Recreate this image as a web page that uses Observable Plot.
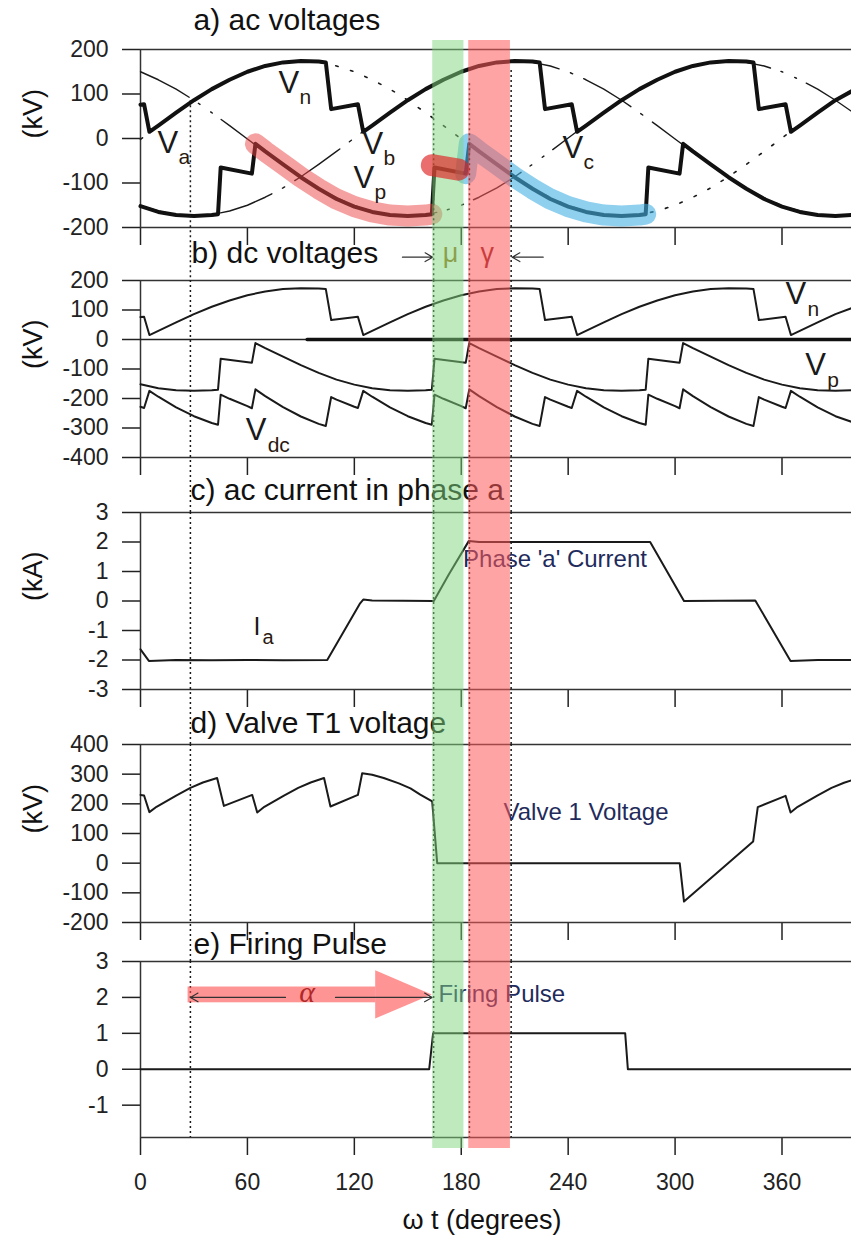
<!DOCTYPE html>
<html><head><meta charset="utf-8">
<script src="https://cdn.jsdelivr.net/npm/d3@7"></script>
<script src="https://cdn.jsdelivr.net/npm/@observablehq/plot@0.6"></script>
<style>
body{margin:0;background:#fff;}
#wrap{position:relative;width:851px;height:1238px;color:#222;font-family:"Liberation Sans",Arial,Helvetica,sans-serif;overflow:hidden;}
</style></head><body><div id="wrap"></div>
<script>
// ---------- shared x ----------
const xDomain = [0, 399];
const xTicks = [0, 60, 120, 180, 240, 300, 360];

// ---------- panel a: ac phase voltages (kV) ----------
const vA = [[0,150],[10,132],[20,111],[30,86],[40,58],[50,29],[60,-1],[70,-31],[80,-59],[90,-87],[100,-112],[110,-133],[120,-151],[130,-163],[140,-172],[150,-174],[160,-171],[170,-163],[180,-150],[190,-132],[200,-111],[210,-86],[220,-58],[230,-29],[240,1],[250,31],[260,59],[270,87],[280,112],[290,133],[300,151],[310,163],[320,172],[330,174],[340,171],[350,163],[360,150],[370,132],[380,111],[390,86],[399,61]];
const vB = [[0,-2],[10,29],[20,58],[30,86],[40,111],[50,132],[60,150],[70,163],[80,171],[90,174],[100,172],[110,163],[120,150],[130,132],[140,111],[150,86],[160,58],[170,29],[180,-1],[190,-31],[200,-59],[210,-87],[220,-112],[230,-133],[240,-151],[250,-163],[260,-172],[270,-174],[280,-171],[290,-163],[300,-150],[310,-132],[320,-111],[330,-86],[340,-58],[350,-29],[360,1],[370,31],[380,59],[390,87],[399,107]];
const vC = [[0,-151],[10,-163],[20,-172],[30,-174],[40,-171],[50,-163],[60,-150],[70,-132],[80,-111],[90,-86],[100,-58],[110,-29],[120,1],[130,31],[140,59],[150,87],[160,112],[170,133],[180,151],[190,163],[200,172],[210,174],[220,171],[230,163],[240,150],[250,132],[260,111],[270,86],[280,58],[290,29],[300,-1],[310,-31],[320,-59],[330,-87],[340,-112],[350,-133],[360,-151],[370,-163],[380,-172],[390,-174],[399,-172]];

// pole voltages Vn (top) and Vp (bottom), kV
const vN = [[0,76],[2,77],[5,15],[10,29],[20,58],[30,86],[40,111],[50,132],[60,150],[70,163],[80,171],[90,174],[100,173],[104,171],[107,66],[122,77],[125,15],[130,29],[140,58],[150,86],[160,111],[170,132],[180,150],[190,163],[200,171],[210,174],[220,173],[224,171],[227,66],[242,77],[245,15],[250,29],[260,58],[270,86],[280,111],[290,132],[300,150],[310,163],[320,171],[330,174],[340,173],[344,171],[347,66],[362,77],[365,15],[370,29],[380,58],[390,86],[399,106]];
const vP = [[0,-152],[10,-165],[20,-172],[30,-174],[40,-172],[43.5,-170],[45,-65],[62.5,-79],[64.5,-12],[70,-29],[80,-58],[90,-87],[100,-113],[110,-136],[120,-153],[130,-165],[140,-172],[150,-174],[160,-172],[163.5,-170],[165,-65],[182.5,-79],[184.5,-12],[190,-29],[200,-58],[210,-87],[220,-113],[230,-136],[240,-153],[250,-165],[260,-172],[270,-174],[280,-172],[283.5,-170],[285,-65],[302.5,-79],[304.5,-12],[310,-29],[320,-58],[330,-87],[340,-113],[350,-136],[360,-153],[370,-165],[380,-172],[390,-174],[399,-172]];
const redBlob = [[163.5,-60],[178.5,-70]];

// ---------- panel b: dc voltage (kV) ----------
const vDC = [[0,-228],[2,-232],[5,-174],[10,-194],[20,-230],[30,-260],[40,-283],[43.5,-289],[45,-187],[50,-201],[60,-226],[62.5,-233],[64.5,-169],[70,-192],[80,-229],[90,-261],[100,-286],[104,-293],[107,-195],[110,-204],[120,-228],[122,-232],[125,-174],[130,-194],[140,-230],[150,-260],[160,-283],[163.5,-289],[165,-187],[170,-201],[180,-226],[182.5,-233],[184.5,-169],[190,-192],[200,-229],[210,-261],[220,-286],[224,-293],[227,-195],[230,-204],[240,-228],[242,-232],[245,-174],[250,-194],[260,-230],[270,-260],[280,-283],[283.5,-289],[285,-187],[290,-201],[300,-226],[302.5,-233],[304.5,-169],[310,-192],[320,-229],[330,-261],[340,-286],[344,-293],[347,-195],[350,-204],[360,-228],[362,-232],[365,-174],[370,-194],[380,-230],[390,-260],[399,-279]];
const dcZero = [[93.5,0],[399,0]];

// ---------- panel c: phase a current (kA) ----------
const iA = [[0,-1.64],[4.7,-2.03],[20,-2.0],[40,-2.01],[60,-2.0],[80,-2.01],[104.8,-2.0],[123,-0.1],[125,0.05],[130,0.02],[164.6,0.0],[173,0.9],[184.2,2.03],[190,2.0],[286,2.0],[305,0.0],[345,0.02],[364.8,-2.03],[380,-2.0],[399,-2.0]];

// ---------- panel d: valve T1 voltage (kV) ----------
const vValve = [[0,230],[2,228],[5,172],[9,190],[20,228],[28,254],[35,272],[43,287],[46.8,193],[62.7,230],[65.5,171],[69.5,190],[80.5,228],[88.5,254],[95.5,272],[103,287],[106.6,191],[122,230],[124.4,303],[130,298],[136.5,287],[145,269],[151.5,252],[157,231],[163.7,208],[166.5,0],[302.6,0],[305,-129.5],[343.8,73],[346.4,189],[362,227],[364.8,171],[368.8,190],[379.8,228],[387.8,254],[394.8,271],[399,279]];

// ---------- panel e: firing pulse ----------
const firing = [[0,0],[162,0],[164.2,1],[272,1],[273.5,0],[399,0]];

// ---------- annotations ----------
const bands = [{x1:164, x2:181.5}, {x1:184.2, x2:207.6}];        // mu (green), gamma (red)
const dottedTops = [[28,85],[164.5,78],[184.6,123],[208,153]];  // x (deg), start (kV) in panel a
const dottedX = dottedTops.map(d => d[0]);
const labelsA = [{main:"V",sub:"a",x:9.5,y:-32},{main:"V",sub:"n",x:77.4,y:103},{main:"V",sub:"b",x:124.6,y:-34},{main:"V",sub:"p",x:119.5,y:-111},{main:"V",sub:"c",x:236.8,y:-43}];
const labelsB = [{main:"V",sub:"n",x:362,y:122},{main:"V",sub:"p",x:373,y:-119},{main:"V",sub:"dc",x:59,y:-342}];
const labelsC = [{main:"I",sub:"a",x:63.4,y:-1.15}];
const muGammaArrows = [{x1:147,x2:164,y:279},{x1:226,x2:208.6,y:279}];
const muText = [{t:"μ",x:174,y:264}];
const gammaText = [{t:"γ",x:194.6,y:264}];
const currentLabel = [{t:"Phase 'a' Current",x:181,y:1.15}];
const valveLabel = [{t:"Valve 1 Voltage",x:203.7,y:144}];
const firingLabel = [{t:"Firing Pulse",x:167.2,y:1.86}];
const alphaShaft = [{x1:26.7,x2:132,y1:1.85,y2:2.29}];
const alphaHead = [{x:132,y1:1.4,y2:2.74},{x:163.7,y1:2.07,y2:2.07}];
const alphaArrows = [{x1:81.4,x2:28,y:2},{x1:109.4,x2:163.7,y:2}];
const alphaText = [{t:"α",x:93.5,y:1.86}];

// ---------- drawing ----------
const FONT = '"Liberation Sans", Arial, Helvetica, sans-serif';
const wrap = document.getElementById("wrap");
const INK = "#1a1a1a";
const NAVY = "#1f2b5c";
const STYLE = {background: "transparent", overflow: "visible", fontFamily: FONT, fontSize: "23px", color: "#222"};

function mount(svg, top) {
  svg.style.position = "absolute";
  svg.style.top = top + "px";
  svg.style.left = "0px";
  wrap.appendChild(svg);
}

function panel(cfg) {
  const {top, height, frameTop, frameBottom, yDomain, yTicks, title, titleDx, titleDy, yLabel, xLabels, marks} = cfg;
  const fixed = [
    Plot.axisY(yTicks, {tickSize: 18, tickPadding: 14, tickFormat: d => String(d), label: null, strokeWidth: 1.5, fontSize: 23}),
    Plot.axisX(xTicks, {tickSize: 18, tickPadding: 18, tickFormat: xLabels ? (d => String(d)) : (() => ""), label: null, strokeWidth: 1.5, fontSize: 23}),
    Plot.ruleY([yDomain[0], yDomain[1]], {strokeWidth: 1.5, stroke: "#333"}),
    Plot.ruleX([0], {strokeWidth: 1.5, stroke: "#333"}),
    Plot.text([title], {frameAnchor: "top-left", dx: titleDx, dy: titleDy, textAnchor: "start", lineAnchor: "bottom", fontSize: 30, fill: "#111"})
  ];
  if (yLabel) fixed.push(Plot.text([yLabel], {frameAnchor: "left", dx: -107, rotate: -90, fontSize: 27, fill: "#111"}));
  const svg = Plot.plot({
    width: 851, height,
    marginLeft: 140, marginRight: 0,
    marginTop: frameTop - top, marginBottom: top + height - frameBottom,
    x: {domain: xDomain},
    y: {domain: yDomain},
    style: STYLE,
    marks: [...fixed, ...marks]
  });
  mount(svg, top);
}

const X = d => d[0], Y = d => d[1];
const subLabels = (data, mainSize, subSize, subDx, subDy) => [
  Plot.text(data, {x: "x", y: "y", text: "main", textAnchor: "start", lineAnchor: "bottom", fontSize: mainSize, fill: INK}),
  Plot.text(data, {x: "x", y: "y", text: "sub", dx: subDx, dy: subDy, textAnchor: "start", lineAnchor: "bottom", fontSize: subSize, fill: "#2a1a10"})
];
const note = (data, color, size) => Plot.text(data, {x: "x", y: "y", text: "t", textAnchor: "start", lineAnchor: "bottom", fontSize: size, fill: color});

// a) ac voltages
panel({
  top: 0, height: 247, frameTop: 49, frameBottom: 227,
  yDomain: [-200, 200], yTicks: [-200, -100, 0, 100, 200],
  title: "a) ac voltages", titleDx: 53, titleDy: -20, yLabel: "(kV)",
  marks: [
    Plot.line(vA, {x: X, y: Y, stroke: INK, strokeWidth: 1.4, strokeDasharray: "55,11,2,13,2,11"}),
    Plot.line(vB, {x: X, y: Y, stroke: INK, strokeWidth: 1.6, strokeDasharray: "2.5,13"}),
    Plot.line(vC, {x: X, y: Y, stroke: INK, strokeWidth: 1.4, strokeDasharray: "55,12,2.5,12"}),
    Plot.line(vN, {x: X, y: Y, stroke: "#111", strokeWidth: 4, strokeLinejoin: "round"}),
    Plot.line(vP, {x: X, y: Y, stroke: "#111", strokeWidth: 4, strokeLinejoin: "round"}),
    Plot.line(vP.filter(d => d[0] >= 64 && d[0] <= 164), {x: X, y: Y, stroke: "#ee4444", strokeOpacity: 0.5, strokeWidth: 21, strokeLinecap: "round", strokeLinejoin: "round"}),
    Plot.line(vP.filter(d => d[0] >= 182.5 && d[0] <= 284), {x: X, y: Y, stroke: "#45b0e5", strokeOpacity: 0.6, strokeWidth: 21, strokeLinecap: "round", strokeLinejoin: "round"}),
    Plot.ruleX(dottedTops, {x: X, y1: Y, y2: -200, stroke: INK, strokeWidth: 1.5, strokeDasharray: "2,3", insetBottom: -53}),
    ...subLabels(labelsA, 31, 21, 21, 11)
  ]
});

// b) dc voltages
panel({
  top: 247, height: 241, frameTop: 280, frameBottom: 457,
  yDomain: [-400, 200], yTicks: [-400, -300, -200, -100, 0, 100, 200],
  title: "b) dc voltages", titleDx: 51, titleDy: -18, yLabel: "(kV)",
  marks: [
    Plot.ruleY([0], {stroke: "#222", strokeWidth: 1.5}),
    Plot.line(dcZero, {x: X, y: Y, stroke: "#111", strokeWidth: 3.5}),
    Plot.line(vN, {x: X, y: Y, stroke: INK, strokeWidth: 2}),
    Plot.line(vP, {x: X, y: Y, stroke: INK, strokeWidth: 2}),
    Plot.line(vDC, {x: X, y: Y, stroke: INK, strokeWidth: 2}),
    Plot.ruleX(dottedX, {stroke: INK, strokeWidth: 1.5, strokeDasharray: "2,3", insetBottom: -55}),
    Plot.arrow(muGammaArrows, {x1: "x1", x2: "x2", y1: "y", y2: "y", stroke: "#333", strokeWidth: 1.2, headLength: 11}),
    Plot.text(muText, {x: "x", y: "y", text: "t", fontSize: 27, lineAnchor: "bottom", fill: "#9a6a1a"}),
    Plot.text(gammaText, {x: "x", y: "y", text: "t", fontSize: 27, lineAnchor: "bottom", fill: "#8b1a1a"}),
    ...subLabels(labelsB, 31, 21, 22, 12)
  ]
});

// c) ac current in phase a
panel({
  top: 488, height: 229, frameTop: 512, frameBottom: 689,
  yDomain: [-3, 3], yTicks: [-3, -2, -1, 0, 1, 2, 3],
  title: "c) ac current in phase a", titleDx: 50, titleDy: -13, yLabel: "(kA)",
  marks: [
    Plot.line(iA, {x: X, y: Y, stroke: INK, strokeWidth: 2}),
    Plot.ruleX(dottedX, {stroke: INK, strokeWidth: 1.5, strokeDasharray: "2,3", insetBottom: -55}),
    note(currentLabel, NAVY, 24),
    ...subLabels(labelsC, 25, 20, 9, 9)
  ]
});

// d) Valve T1 voltage
panel({
  top: 717, height: 227, frameTop: 744, frameBottom: 922,
  yDomain: [-200, 400], yTicks: [-200, -100, 0, 100, 200, 300, 400],
  title: "d) Valve T1 voltage", titleDx: 50, titleDy: -12, yLabel: "(kV)",
  marks: [
    Plot.line(vValve, {x: X, y: Y, stroke: INK, strokeWidth: 2, strokeLinejoin: "round"}),
    Plot.ruleX(dottedX, {stroke: INK, strokeWidth: 1.5, strokeDasharray: "2,3", insetBottom: -39}),
    note(valveLabel, NAVY, 24)
  ]
});

// e) Firing Pulse
panel({
  top: 944, height: 294, frameTop: 961, frameBottom: 1137,
  yDomain: [-1.9, 3], yTicks: [-1, 0, 1, 2, 3],
  title: "e) Firing Pulse", titleDx: 53, titleDy: -8, yLabel: null, xLabels: true,
  marks: [
    Plot.line(firing, {x: X, y: Y, stroke: INK, strokeWidth: 2}),
    Plot.ruleX(dottedX, {stroke: INK, strokeWidth: 1.5, strokeDasharray: "2,3"}),
    Plot.rect(alphaShaft, {x1: "x1", x2: "x2", y1: "y1", y2: "y2", fill: "#ff4d4d", fillOpacity: 0.6}),
    Plot.areaY(alphaHead, {x: "x", y1: "y1", y2: "y2", fill: "#ff4d4d", fillOpacity: 0.6}),
    Plot.arrow(alphaArrows, {x1: "x1", x2: "x2", y1: "y", y2: "y", stroke: "#333", strokeWidth: 1.1, headLength: 12}),
    Plot.text(alphaText, {x: "x", y: "y", text: "t", fontSize: 30, fontStyle: "italic", fontFamily: "Liberation Serif, serif", lineAnchor: "bottom", fill: "#b02828"}),
    note(firingLabel, NAVY, 24),
    Plot.text(["ω t (degrees)"], {frameAnchor: "bottom", dx: -14, dy: 91, lineAnchor: "bottom", fontSize: 27, fill: "#111"})
  ]
});

// highlighted commutation (mu) and extinction (gamma) bands across all panels
const overlay = Plot.plot({
  width: 851, height: 1238,
  marginLeft: 140, marginRight: 0, marginTop: 40, marginBottom: 90,
  x: {domain: xDomain, axis: null},
  style: {background: "transparent", overflow: "visible"},
  marks: [
    Plot.rect([bands[0]], {x1: "x1", x2: "x2", fill: "#7ed67e", fillOpacity: 0.5}),
    Plot.rect([bands[1]], {x1: "x1", x2: "x2", fill: "#ff5a5a", fillOpacity: 0.55})
  ]
});
mount(overlay, 0);

// red marker over the commutation notch of Vp (drawn above the bands), panel a scales
const blobLayer = Plot.plot({
  width: 851, height: 247,
  marginLeft: 140, marginRight: 0, marginTop: 49, marginBottom: 20,
  x: {domain: xDomain, axis: null},
  y: {domain: [-200, 200], axis: null},
  style: {background: "transparent", overflow: "visible"},
  marks: [
    Plot.line(redBlob, {x: X, y: Y, stroke: "#e02020", strokeOpacity: 0.65, strokeWidth: 22, strokeLinecap: "round"})
  ]
});
mount(blobLayer, 0);
</script>
</body></html>
